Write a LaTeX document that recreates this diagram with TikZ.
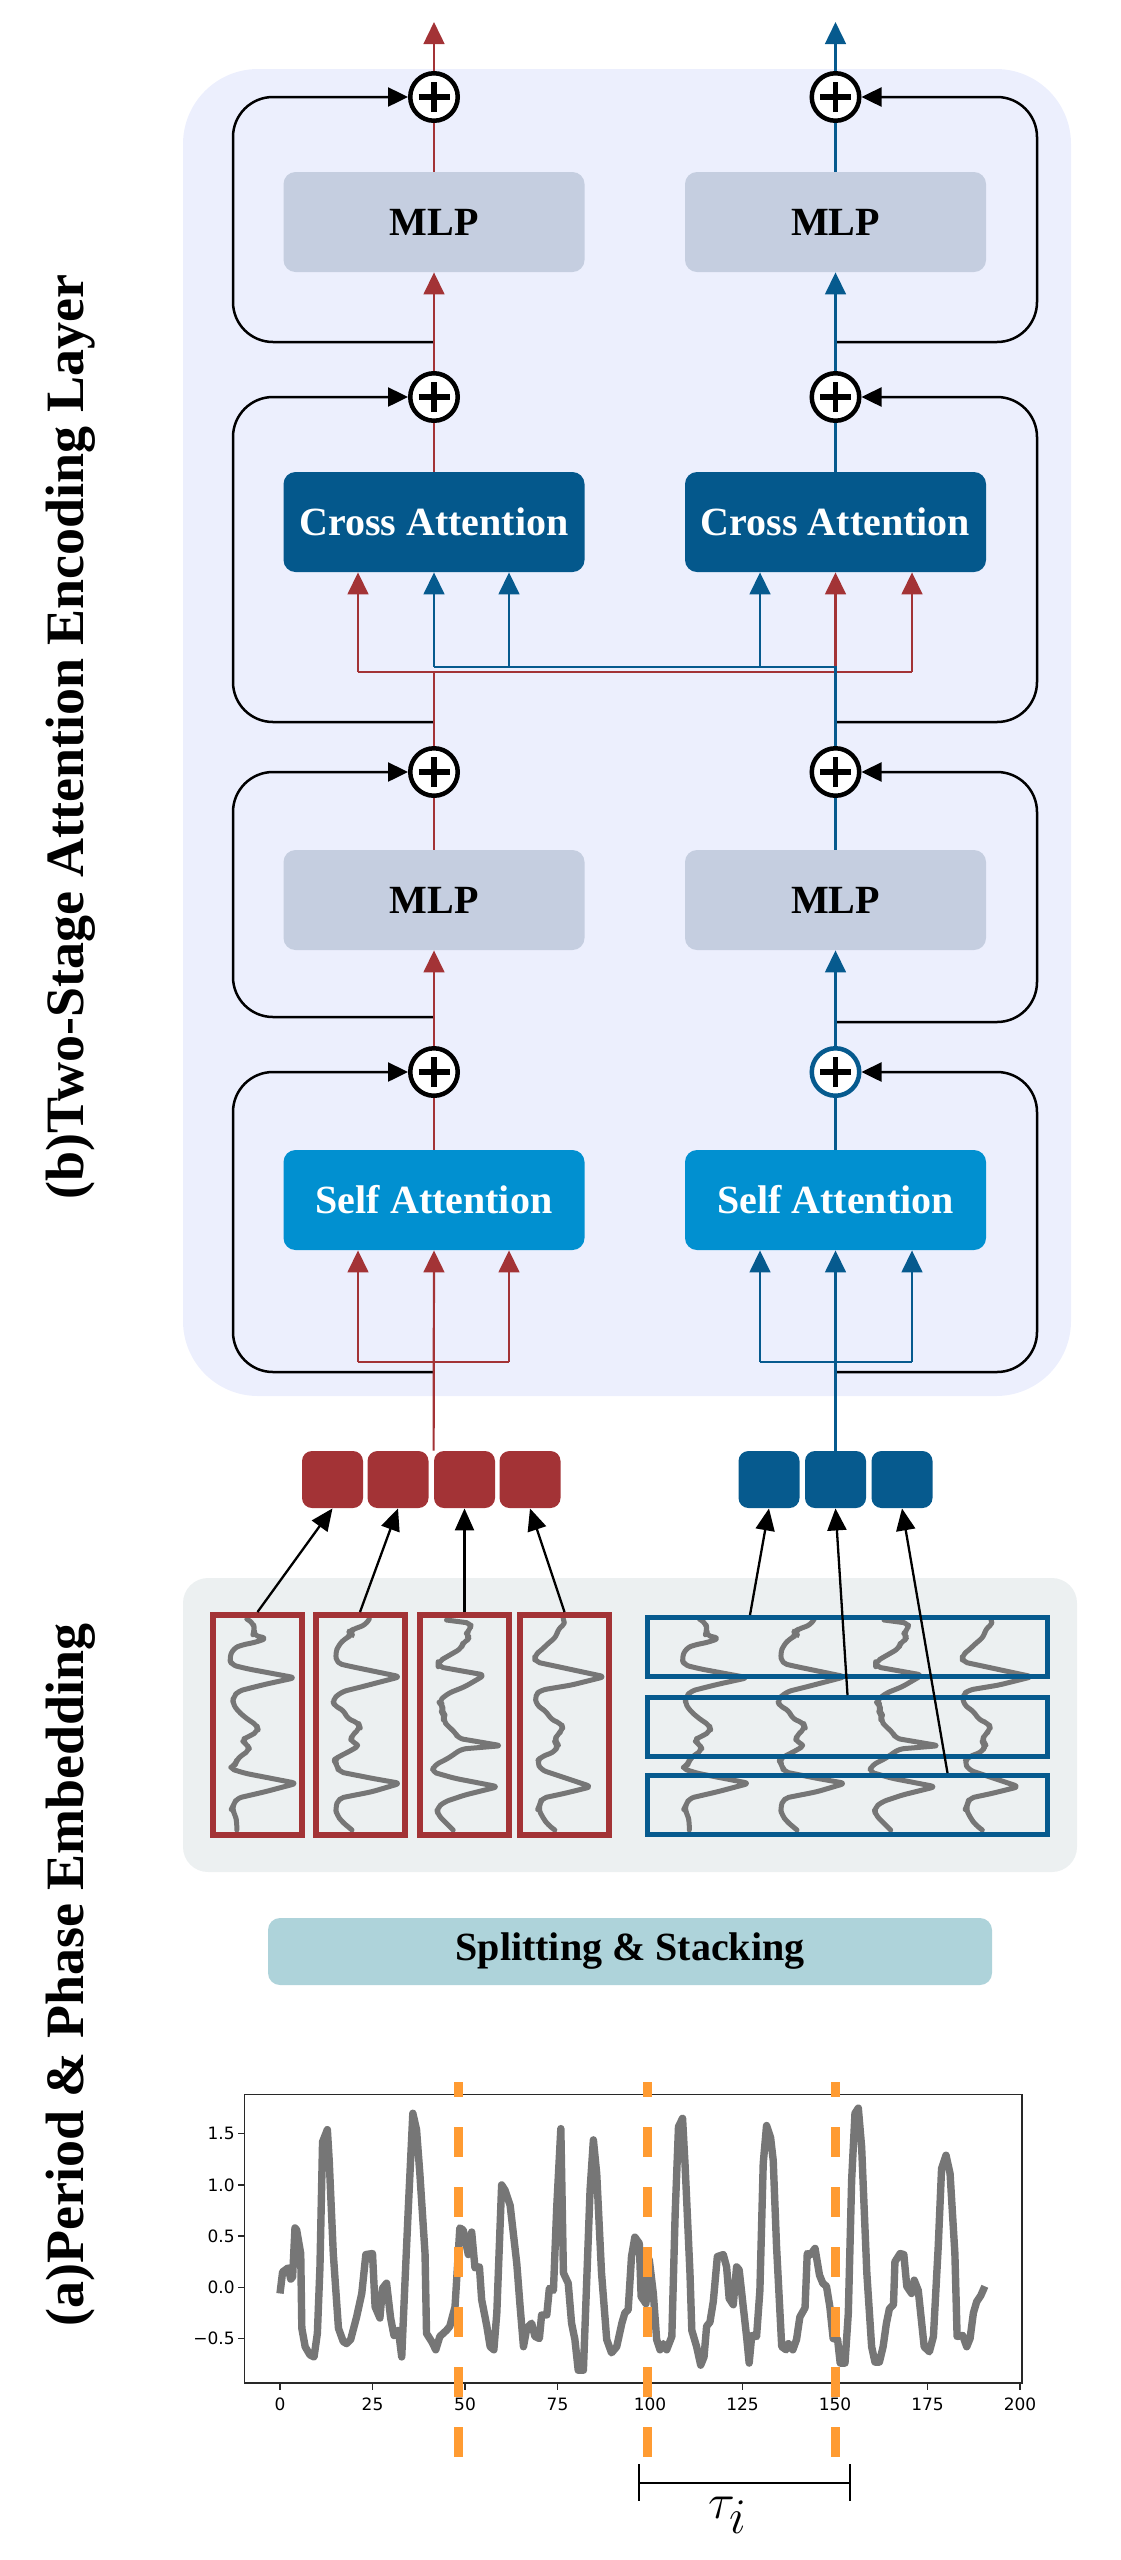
\documentclass[tikz,border=0pt]{standalone}
\usepackage{fontspec}
\setmainfont{Liberation Serif}
\newfontfamily\tickfont{DejaVu Sans}
\usetikzlibrary{arrows.meta,calc}
\definecolor{panelc}{RGB}{236,239,253}
\definecolor{greyc}{RGB}{236,240,241}
\definecolor{mlpc}{RGB}{197,206,224}
\definecolor{crossc}{RGB}{4,88,140}
\definecolor{selfc}{RGB}{1,144,208}
\definecolor{redc}{RGB}{163,51,54}
\definecolor{bluec}{RGB}{6,90,142}
\definecolor{splitc}{RGB}{174,211,218}
\definecolor{orangec}{RGB}{255,155,50}
\definecolor{wavec}{RGB}{118,118,118}
\definecolor{axisc}{RGB}{40,40,40}
\tikzset{
  box/.style={rounded corners=6pt, minimum width=150.5pt, minimum height=50pt, inner sep=0pt,
    font=\bfseries\fontsize{20}{24}\selectfont},
  mlpbox/.style={box, fill=mlpc},
  crossbox/.style={box, fill=crossc, text=white},
  selfbox/.style={box, fill=selfc, text=white},
  plusnode/.style={circle, draw=#1, fill=white, line width=2.25pt, minimum size=23.75pt, inner sep=0pt,
    path picture={
      \draw[black, line width=2.75pt] (path picture bounding box.center) ++(-7.75pt,0) -- ++(15.5pt,0);
      \draw[black, line width=2.75pt] (path picture bounding box.center) ++(0,-7.5pt) -- ++(0,15pt);}},
  plusnode/.default=black,
  redline/.style={draw=redc, line width=1.1pt},
  blueline/.style={draw=bluec, line width=1.1pt},
  redarr/.style={redline, -{Triangle[length=11pt,width=10.4pt]}},
  bluearr/.style={blueline, -{Triangle[length=11pt,width=10.4pt]}},
  loopline/.style={draw=black, line width=1.25pt, rounded corners=20pt, -{Triangle[length=10pt,width=9.5pt]}},
  tokarr/.style={draw=black, line width=1.15pt, -{Triangle[length=11pt,width=9.5pt]}},
  tok/.style={rounded corners=5pt, minimum width=30.5pt, minimum height=28.5pt, inner sep=0pt},
  redframe/.style={draw=redc, line width=3pt, minimum width=44.5pt, minimum height=110pt, inner sep=0pt},
  blueframe/.style={draw=bluec, line width=2.5pt, minimum width=200pt, minimum height=29.5pt, inner sep=0pt},
  wavestroke/.style={draw=wavec, line width=2.5pt, line join=round, line cap=round, rounded corners=2.5pt},
  plotline/.style={draw=wavec, line width=3.7pt, line join=round},
  axisline/.style={draw=axisc, line width=0.75pt},
  ticklabel/.style={font=\tickfont\fontsize{8.5}{10}\selectfont, inner sep=0pt},
  perioddash/.style={draw=orangec, line width=4.5pt, dash pattern=on 15pt off 15pt, dash phase=7.5pt},
  title/.style={rotate=90, font=\bfseries\fontsize{27}{32}\selectfont, inner sep=0pt},
  wavea/.pic={\draw[wavestroke] (-10.7,-106) -- (-4,-101.7) -- (-3,-95) -- (-4.7,-90) -- (9.3,-86.7) -- (-2.3,-82.7) -- (-15.7,-80) -- (-24,-76.7) -- (-28.3,-66.7) -- (-25.7,-60) -- (-9,-56) -- (37.7,-47.3) -- (7.7,-40.7) -- (-19,-34) -- (-24,-28.3) -- (-25,-21.7) -- (-19,-13.3) -- (-9,-5) -- (-0.7,0) -- (1,6) -- (-9,11.7) -- (-16.3,15) -- (-10.7,19.3) -- (-7.3,25) -- (-15.7,30) -- (-20.7,35) -- (-22.3,40) -- (-28.3,43.3) -- (-12.3,48.3) -- (39.3,58.3) -- (7.7,66.7) -- (-20.7,73.3) -- (-24,80) -- (-25.7,83.3) -- (-22.3,90) -- (-20.7,96.7) -- (-20.7,105);},
  waveb/.pic={\draw[wavestroke] (9.3,-106) -- (5.3,-100) -- (-6.3,-96) -- (-10.7,-93.3) -- (-8,-90) -- (-14.7,-86.7) -- (-21.3,-80) -- (-24.7,-71.7) -- (-23,-61.7) -- (-8,-58.3) -- (40.3,-48.3) -- (2,-38.3) -- (-18,-33.3) -- (-28,-25) -- (-24.7,-18.3) -- (-16.3,-15) -- (-13,-6.7) -- (-1.3,-1.7) -- (0.3,3.3) -- (-8,10) -- (-9.7,16.7) -- (0.3,20) -- (-11.3,26.7) -- (-21.3,31.7) -- (-26.3,35) -- (-23,40) -- (-21.3,46.7) -- (12,53.3) -- (40.3,58.3) -- (12,66.7) -- (-21.3,73.3) -- (-24.7,83.3) -- (-23,90) -- (-18,96.7) -- (-8,105);},
  wavec/.pic={\draw[wavestroke] (-18,-105) -- (7,-101.7) -- (5.3,-95) -- (0.3,-90) -- (7,-86.7) -- (-1.3,-83.3) -- (-3,-76.7) -- (-14.7,-70) -- (-26.3,-63.3) -- (-26.3,-58.3) -- (20.3,-50) -- (0.3,-38.3) -- (-16.3,-31.7) -- (-26.3,-23.3) -- (-21.3,-20) -- (-23,-13.3) -- (-19.7,-10) -- (-21.3,-5) -- (-16.3,1.7) -- (-9.7,6.7) -- (-6.3,13.3) -- (37,20.7) -- (-3,24) -- (-16.3,33.3) -- (-29.7,40) -- (-33,46.7) -- (-9.7,53.3) -- (33.7,61.7) -- (0.3,70) -- (-19.7,76.7) -- (-28,83.3) -- (-26.3,90) -- (-19.7,96.7) -- (-11.3,105);},
  waved/.pic={\draw[wavestroke] (-1.3,-106) -- (2,-101.7) -- (-6.3,-96.7) -- (-8,-88.3) -- (-16.3,-81.7) -- (-23,-75) -- (-29.7,-70) -- (-29.7,-63.3) -- (-6.3,-58.3) -- (40.3,-48.3) -- (7,-40) -- (-23,-35) -- (-29.7,-30) -- (-28,-20) -- (-18,-13.3) -- (-13,-5) -- (-3,-1.7) -- (-1.3,5) -- (-8,10) -- (-9.7,16.7) -- (-6.3,20) -- (-9.7,26.7) -- (-23,31.7) -- (-28,36.7) -- (-23,45) -- (7,55) -- (27,61.7) -- (0.3,68.3) -- (-23,73.3) -- (-24.7,80) -- (-26.3,83.3) -- (-21.3,93.3) -- (-16.3,100) -- (-9.7,105);}
}
\begin{document}
\begin{tikzpicture}[x=0.5pt,y=-0.5pt]
\useasboundingbox (0,0) rectangle (1120,2560);

% ---------- panels ----------
\fill[panelc, rounded corners=37.5pt] (183,69) rectangle (1071,1396);
\fill[greyc, rounded corners=12.5pt] (183,1578) rectangle (1077,1872);

% ---------- titles ----------
\node[title] (titleb) at (71,737) {(b)Two-Stage Attention Encoding Layer};
\node[title] (titlea) at (71,1975) {(a)Period \& Phase Embedding};

% ---------- encoder boxes ----------
\node[mlpbox] (ml2l) at (434,222) {MLP};
\node[mlpbox] (ml2r) at (835.5,222) {MLP};
\node[crossbox] (cal) at (434,522) {Cross Attention};
\node[crossbox] (car) at (835.5,522) {Cross Attention};
\node[mlpbox] (ml1l) at (434,900) {MLP};
\node[mlpbox] (ml1r) at (835.5,900) {MLP};
\node[selfbox] (sal) at (434,1200) {Self Attention};
\node[selfbox] (sar) at (835.5,1200) {Self Attention};

% ---------- plus nodes ----------
\node[plusnode] (p4l) at (434,97) {};
\node[plusnode] (p4r) at (835.5,97) {};
\node[plusnode] (p3l) at (434,397) {};
\node[plusnode] (p3r) at (835.5,397) {};
\node[plusnode] (p2l) at (434,772) {};
\node[plusnode] (p2r) at (835.5,772) {};
\node[plusnode] (p1l) at (434,1072) {};
\node[plusnode=bluec] (p1r) at (835.5,1072) {};

% ---------- tokens ----------
\foreach \i/\cx in {1/332.5, 2/398, 3/464.5, 4/530}
  \node[tok, fill=redc] (rt\i) at (\cx,1479.5) {};
\foreach \i/\cx in {1/769, 2/835.5, 3/902}
  \node[tok, fill=bluec] (bt\i) at (\cx,1479.5) {};

% ---------- output coordinates, junctions ----------
\coordinate (outl) at (434,22);
\coordinate (outr) at (835.5,22);
\coordinate (crj) at (434,672);
\coordinate (crb1) at (358,672);
\coordinate (crb2) at (835.5,672);
\coordinate (crb3) at (912,672);
\coordinate (cbj) at (835.5,667);
\coordinate (cbb1) at (434,667);
\coordinate (cbb2) at (509,667);
\coordinate (cbb3) at (760,667);
\coordinate (srb1) at (358,1362);
\coordinate (srb3) at (509,1362);
\coordinate (sbb1) at (760,1362);
\coordinate (sbb3) at (912,1362);

% ---------- residual loops ----------
\coordinate (l4l) at (434,342);
\coordinate (l4r) at (835.5,342);
\coordinate (l3l) at (434,722);
\coordinate (l3r) at (835.5,722);
\coordinate (l2l) at (434,1017);
\coordinate (l2r) at (835.5,1022);
\coordinate (l1l) at (434,1372);
\coordinate (l1r) at (835.5,1372);
\foreach \k in {1,2,3,4} {
  \draw[loopline] (l\k l) -- ++(-201,0) |- (p\k l.west);
  \draw[loopline] (l\k r) -- ++(201.5,0) |- (p\k r.east);
}

% ---------- left (red) stream ----------
\draw[redarr] (rt3.north west) -- (sal.south);
\draw[redline] (srb1) -- (srb3);
\draw[redarr] (srb1) -- (srb1 |- sal.south);
\draw[redarr] (srb3) -- (srb3 |- sal.south);
\draw[redline] (sal) -- (p1l);
\draw[redarr] (p1l) -- (ml1l);
\draw[redline] (ml1l) -- (p2l);
\draw[redline] (p2l) -- (crj);
\draw[redline] (crb1) -- (crb3);
\draw[redarr] (crb1) -- (crb1 |- cal.south);
\draw[redarr] (crb2) -- (car.south);
\draw[redarr] (crb3) -- (crb3 |- car.south);
\draw[redline] (cal) -- (p3l);
\draw[redarr] (p3l) -- (ml2l);
\draw[redline] (ml2l) -- (p4l);
\draw[redarr] (p4l) -- (outl);

% ---------- right (blue) stream ----------
\draw[bluearr] (bt2.north) -- (sar.south);
\draw[blueline] (sbb1) -- (sbb3);
\draw[bluearr] (sbb1) -- (sbb1 |- sar.south);
\draw[bluearr] (sbb3) -- (sbb3 |- sar.south);
\draw[blueline] (sar) -- (p1r);
\draw[bluearr] (p1r) -- (ml1r);
\draw[blueline] (ml1r) -- (p2r);
\draw[blueline] (p2r) -- (cbj) -- (cbb1);
\draw[bluearr] (cbb1) -- (cal.south);
\draw[bluearr] (cbb2) -- (cbb2 |- cal.south);
\draw[bluearr] (cbb3) -- (cbb3 |- car.south);
\draw[blueline] (car) -- (p3r);
\draw[bluearr] (p3r) -- (ml2r);
\draw[blueline] (ml2r) -- (p4r);
\draw[bluearr] (p4r) -- (outr);

% ---------- period segments (red, vertical) ----------
\pic at (257.5,1725) {wavea};
\pic at (360,1725) {waveb};
\pic at (464.5,1725) {wavec};
\pic at (564.5,1725) {waved};
\foreach \i/\cx in {1/257.5, 2/360, 3/464.5, 4/564.5}
  \node[redframe] (rb\i) at (\cx,1725) {};
\foreach \i in {1,2,3,4}
  \draw[tokarr] (rb\i.north) -- (rt\i.south);

% ---------- phase segments (blue, horizontal) ----------
\pic at (710,1725) {wavea};
\pic at (805,1725) {waveb};
\pic at (902,1725) {wavec};
\pic at (992,1725) {waved};
\node[blueframe] (bb1) at (847.5,1647) {};
\node[blueframe] (bb2) at (847.5,1727) {};
\node[blueframe] (bb3) at (847.5,1805) {};
\draw[tokarr] ([xshift=-48.75pt]bb1.north) -- (bt1.south);
\draw[tokarr] (bb2.north) -- (bt2.south);
\draw[tokarr] ([xshift=50pt]bb3.north) -- (bt3.south);

% ---------- splitting ----------
\node[rounded corners=6pt, fill=splitc, minimum width=362pt, minimum height=33.5pt, inner sep=0pt,
  font=\bfseries\fontsize{20}{24}\selectfont] (split) at (630,1951.5) {Splitting \& Stacking};

% ---------- time-series plot ----------
\draw[axisline] (244.7,2094.7) rectangle (1022,2383);
\foreach \t in {0,25,...,200} {
  \draw[axisline] ({280+3.7*\t},2383) -- ++(0,7);
  \node[ticklabel] (xt\t) at ({280+3.7*\t},2404) {\t};
}
\foreach \v/\lab [count=\k] in {-0.5/−0.5, 0/0.0, 0.5/0.5, 1/1.0, 1.5/1.5} {
  \draw[axisline] (244.7,{2287.3-102.4*\v}) -- ++(-7,0);
  \node[ticklabel, anchor=east] (yt\k) at (235,{2287.3-102.4*\v}) {\lab};
}
\begin{scope}[shift={(280,2287.3)}, x=1.85pt, y=51.2pt]
\draw[plotline] plot coordinates {(0,-0.06) (0.7,0.15) (2.2,0.19) (2.9,0.08) (3.4,0.10) (4.05,0.58) (4.5,0.56) (5.6,0.33) (5.9,-0.40) (6.8,-0.58) (8.1,-0.66) (9.2,-0.68) (10.1,-0.45) (10.8,0.20) (11.5,1.42) (12.8,1.54) (13.3,1.24) (14.4,0.33) (15.8,-0.40) (17.1,-0.53) (18,-0.55) (19.1,-0.51) (20.7,-0.29) (22.1,-0.06) (23.2,0.32) (25,0.33) (25.7,-0.19) (27,-0.30) (27.7,-0.01) (28.8,0.04) (29.9,-0.30) (30.8,-0.47) (32,-0.42) (32.9,-0.68) (33.8,0.07) (34.7,0.79) (35.9,1.70) (36.9,1.54) (37.8,1.11) (39.2,0.33) (39.6,-0.45) (41,-0.53) (42.1,-0.61) (43.2,-0.48) (44.1,-0.45) (45,-0.42) (45.9,-0.38) (47.3,-0.19) (48.6,0.58) (49.5,0.56) (50.9,0.32) (51.8,0.54) (52.7,0.19) (53.9,0.20) (54.5,-0.12) (55.9,-0.38) (56.8,-0.58) (57.8,-0.61) (58.6,-0.25) (59.9,1.00) (60.8,0.95) (62.2,0.80) (64,0.23) (64.9,-0.19) (65.8,-0.58) (66.7,-0.40) (68,-0.35) (68.9,-0.48) (70.1,-0.50) (70.7,-0.27) (72.1,-0.27) (72.8,-0.01) (73.9,-0.03) (74.8,0.79) (75.9,1.55) (76.6,0.14) (77.9,0.04) (78.8,-0.35) (79.7,-0.51) (80.6,-0.81) (82,-0.81) (82.9,0.07) (83.8,0.95) (84.7,1.44) (85.6,1.11) (86.9,0.14) (88.3,-0.51) (89.6,-0.64) (91,-0.58) (92.4,-0.35) (93.2,-0.25) (94.1,-0.22) (95,0.30) (95.9,0.49) (97.1,0.43) (97.6,-0.09) (98.9,-0.16) (99.8,0.27) (100.9,-0.06) (101.8,-0.51) (102.7,-0.61) (103.6,-0.55) (104.5,-0.61) (105.9,-0.48) (106.8,0.72) (107.7,1.57) (108.8,1.65) (109.5,1.18) (110.8,0.14) (111.3,-0.42) (112.6,-0.58) (113.7,-0.76) (114.6,-0.68) (115.3,-0.38) (116.2,-0.34) (117.1,-0.14) (118.2,0.30) (119.8,0.32) (120.7,0.20) (121.4,-0.11) (122.5,-0.17) (123.4,0.20) (124.1,0.17) (125.2,-0.19) (126.1,-0.48) (126.8,-0.74) (127.5,-0.47) (128.8,-0.48) (129.7,-0.03) (130.6,1.21) (131.5,1.58) (132.6,1.46) (133.3,1.24) (134.2,0.40) (135.6,-0.58) (136.8,-0.61) (137.4,-0.55) (138.6,-0.61) (139.6,-0.51) (140.5,-0.29) (141.9,-0.20) (142.5,0.33) (143.4,0.32) (144.6,0.38) (145.8,0.12) (146.7,0.04) (147.7,0.01) (148.6,-0.19) (149.5,-0.50) (150.7,-0.51) (151.4,-0.74) (152.7,-0.74) (153.6,-0.25) (154.5,1.05) (155.4,1.70) (156.3,1.75) (157.2,1.37) (158.6,0.14) (159.9,-0.58) (160.8,-0.73) (162,-0.73) (163,-0.58) (163.9,-0.35) (164.7,-0.21) (165.8,-0.17) (166.2,0.25) (167.6,0.33) (168.6,0.32) (169.4,0.01) (170.7,-0.06) (171.4,0.07) (172.5,-0.03) (174.1,-0.58) (175.5,-0.63) (176.6,-0.48) (177.9,0.40) (178.8,1.16) (180,1.29) (181.1,1.11) (182.4,0.33) (183,-0.48) (184.5,-0.47) (185.6,-0.58) (186.5,-0.50) (187.4,-0.25) (188.3,-0.14) (189.4,-0.08) (190.5,0.01)};
\end{scope}
\draw[perioddash] (458.5,2082) -- (458.5,2458);
\draw[perioddash] (647,2082) -- (647,2458);
\draw[perioddash] (835,2082) -- (835,2458);

% ---------- period bracket ----------
\coordinate (brl) at (639,2483);
\coordinate (brr) at (850,2483);
\draw[black, line width=1.25pt] (brl) -- (brr);
\draw[black, line width=1.25pt] ($(brl)+(0,-19)$) -- ($(brl)+(0,18)$);
\draw[black, line width=1.25pt] ($(brr)+(0,-19)$) -- ($(brr)+(0,18)$);
\node[inner sep=0pt, font=\fontsize{40}{48}\selectfont] (tau) at (728,2515) {$\tau_i$};
\end{tikzpicture}
\end{document}
